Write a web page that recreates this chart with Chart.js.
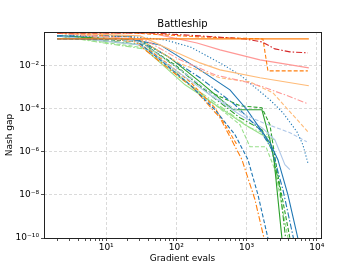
<!DOCTYPE html>
<html><head><meta charset="utf-8">
<script src="https://cdn.jsdelivr.net/npm/chart.js@4"></script>
<style>html,body{margin:0;padding:0;background:#fff}</style>
</head><body>
<canvas id="c" width="357" height="268"></canvas>
<script>
// ---- data (gradient evals, Nash gap) ----
const xTickValues = [10, 100, 1000, 10000];
const xTickLabels = ['10\u00B9', '10\u00B2', '10\u00B3', '10\u2074'];
const yTickValues = [1e-10, 1e-8, 1e-6, 1e-4, 1e-2];
const yTickLabels = ['10\u207B\u00B9\u2070', '10\u207B\u2078', '10\u207B\u2076', '10\u207B\u2074', '10\u207B\u00B2'];

const orangeSolidX = [2, 7720];
const orangeSolidY = [0.172, 0.172];
const redDashDotX = [2, 42.3, 217, 949, 1656, 2535, 4142, 7470];
const redDashDotY = [0.327, 0.327, 0.237, 0.172, 0.125, 0.0593, 0.0431, 0.0387];
const orangeDashedX = [2, 21.9, 217, 1711, 2015, 7470];
const orangeDashedY = [0.327, 0.327, 0.213, 0.172, 0.00569, 0.00569];
const lightRedSolidX = [2, 42.3, 197, 418, 1552, 7720];
const lightRedSolidY = [0.327, 0.327, 0.112, 0.0533, 0.0184, 0.00783];
const lightOrangeSolidX = [2, 30.5, 95.7, 217, 418, 1552, 7720];
const lightOrangeSolidY = [0.327, 0.237, 0.0431, 0.0133, 0.00632, 0.0027, 0.00115];
const lightRedDashedX = [2, 35.9, 113, 355, 949, 1711, 3518, 7470];
const lightRedDashedY = [0.327, 0.155, 0.0184, 0.00371, 0.00176, 0.00103, 0.00044, 0.000169];
const lightOrangeDashedX = [2, 30.5, 113, 418, 1118, 2373, 4142, 5750, 7470];
const lightOrangeDashedY = [0.327, 0.155, 0.012, 0.0027, 0.00176, 0.000545, 7.2e-5, 2.22e-5, 8.5e-6];
const blueDottedX = [2, 25.9, 69, 157, 418, 805, 2152, 3296, 5210, 6340, 7470];
const blueDottedY = [0.237, 0.213, 0.155, 0.0734, 0.0133, 0.00371, 0.000258, 6.5e-5, 8.5e-6, 2.13e-6, 3.1e-7];
const lightBlueDashedX = [2, 30.5, 113, 418, 949, 1711, 4142, 7230];
const lightBlueDashedY = [0.327, 0.125, 0.00632, 0.000258, 5.2e-5, 2.22e-5, 7.7e-6, 2.9e-6];
const blueSolidX = [2, 21.9, 58.7, 217, 580, 1014, 2152, 2797, 3880, 5380];
const blueSolidY = [0.172, 0.172, 0.0908, 0.00632, 0.00075, 8.9e-5, 2.6e-6, 4.3e-7, 1.03e-8, 1e-10];
const blueDashDotX = [2, 21.9, 69, 217, 684, 1552, 2297, 3296, 4650];
const blueDashDotY = [0.237, 0.237, 0.0313, 0.0027, 0.000152, 1.05e-5, 1.25e-6, 1.76e-8, 1e-10];
const blueDashedX = [2, 25.9, 58.7, 157, 355, 684, 1047, 1452, 2015];
const blueDashedY = [0.172, 0.155, 0.0184, 0.00128, 8.9e-5, 6.2e-6, 4.3e-7, 1.03e-8, 1e-10];
const lightBlueSolidX = [2, 30.5, 95.7, 301, 805, 1656, 2535, 3518, 4142];
const lightBlueSolidY = [0.237, 0.0908, 0.00632, 0.00044, 5.2e-5, 1.31e-5, 3.6e-6, 2.5e-7, 1.48e-7];
const orangeDashDotX = [2, 25.9, 58.7, 173, 418, 860, 1316, 1770];
const orangeDashDotY = [0.327, 0.125, 0.0148, 0.000929, 3.8e-5, 4.3e-7, 6.1e-9, 1e-10];
const orangeLowDashedX = [2, 21.9, 58.7, 157, 355, 730];
const orangeLowDashedY = [0.327, 0.213, 0.0227, 0.00176, 0.00011, 2.13e-6];
const greenSolidX = [2, 30.5, 81.3, 217, 641, 1656, 2152, 2460, 3189];
const greenSolidY = [0.237, 0.155, 0.0227, 0.00176, 8.9e-5, 8.9e-5, 3.6e-6, 4.3e-7, 1e-10];
const greenDashedX = [2, 30.5, 95.7, 256, 805, 1656, 2152, 2706, 4142];
const greenDashedY = [0.237, 0.125, 0.0108, 0.00075, 0.000136, 0.00011, 1.8e-5, 1.48e-7, 1e-10];
const greenDashDotX = [2, 35.9, 113, 301, 805, 1656, 2297, 3000, 3600];
const greenDashDotY = [0.237, 0.0908, 0.00632, 0.00044, 3.8e-5, 1.05e-5, 1.25e-6, 1.76e-8, 1e-10];
const lightGreenDashedX = [2, 35.9, 113, 355, 805, 1118, 1888, 2535, 3900];
const lightGreenDashedY = [0.237, 0.0659, 0.0027, 0.000152, 1.8e-5, 1.72e-6, 1.72e-6, 1.48e-7, 1e-10];
const lightGreenSolidX = [2, 30.5, 133, 418, 949, 1656, 2535];
const lightGreenSolidY = [0.237, 0.0908, 0.00128, 0.00011, 1.8e-5, 6.2e-6, 3.6e-6];
const lightGreenDashDotX = [2, 42.3, 157, 493, 1118, 2015];
const lightGreenDashDotY = [0.237, 0.0533, 0.00128, 8.9e-5, 1.31e-5, 6.2e-6];

// ---- styling ----
const C = {
  blue: '#1f77b4', lblue: '#aec7e8', orange: '#ff7f0e', lorange: '#ffbb78',
  green: '#2ca02c', lgreen: '#98df8a', red: '#d62728', lred: '#ff9896'
};
const D = { solid: [], dashed: [4, 2], dashdot: [6, 2, 1.5, 2], dotted: [1.2, 2] };

function mk(xs, ys, color, dash) {
  return {
    data: xs.map((x, i) => ({ x: x, y: ys[i] })),
    borderColor: color, borderDash: dash, borderWidth: 1.1,
    pointRadius: 0, showLine: true, fill: false, tension: 0
  };
}

const datasets = [
  mk(orangeSolidX, orangeSolidY, C.orange, D.solid),
  mk(redDashDotX, redDashDotY, C.red, D.dashdot),
  mk(orangeDashedX, orangeDashedY, C.orange, D.dashed),
  mk(lightRedSolidX, lightRedSolidY, C.lred, D.solid),
  mk(lightOrangeSolidX, lightOrangeSolidY, C.lorange, D.solid),
  mk(lightRedDashedX, lightRedDashedY, C.lred, D.dashdot),
  mk(lightOrangeDashedX, lightOrangeDashedY, C.lorange, D.dashed),
  mk(blueDottedX, blueDottedY, C.blue, D.dotted),
  mk(lightBlueDashedX, lightBlueDashedY, C.lblue, D.dashed),
  mk(blueSolidX, blueSolidY, C.blue, D.solid),
  mk(blueDashDotX, blueDashDotY, C.blue, D.dashdot),
  mk(blueDashedX, blueDashedY, C.blue, D.dashed),
  mk(lightBlueSolidX, lightBlueSolidY, C.lblue, D.solid),
  mk(orangeDashDotX, orangeDashDotY, C.orange, D.dashdot),
  mk(orangeLowDashedX, orangeLowDashedY, C.orange, D.dashed),
  mk(greenSolidX, greenSolidY, C.green, D.solid),
  mk(greenDashedX, greenDashedY, C.green, D.dashed),
  mk(greenDashDotX, greenDashDotY, C.green, D.dashdot),
  mk(lightGreenDashedX, lightGreenDashedY, C.lgreen, D.dashed),
  mk(lightGreenSolidX, lightGreenSolidY, C.lgreen, D.solid),
  mk(lightGreenDashDotX, lightGreenDashDotY, C.lgreen, D.dashdot)
];

const xMinor = [];
for (let e = 0; e <= 4; e++) for (let m = 1; m <= 9; m++) {
  const v = m * Math.pow(10, e);
  if (v >= 1.3 && v <= 11500) xMinor.push(v);
}
const isPow10 = v => Math.abs(Math.log10(v) - Math.round(Math.log10(v))) < 1e-9;

const FONT = "'DejaVu Sans', sans-serif";

const framePlugin = {
  id: 'frame',
  afterDraw(chart) {
    const a = chart.chartArea, ctx = chart.ctx;
    ctx.save();
    ctx.strokeStyle = '#222';
    ctx.lineWidth = 1;
    ctx.strokeRect(Math.round(a.left) + 0.5, Math.round(a.top) + 0.5,
      Math.round(a.right - a.left), Math.round(a.bottom - a.top));
    ctx.restore();
  }
};

new Chart(document.getElementById('c'), {
  type: 'scatter',
  data: { datasets: datasets },
  plugins: [framePlugin],
  options: {
    responsive: false, animation: false,
    layout: { padding: { left: 0, right: 36, top: 0, bottom: 0 } },
    plugins: {
      legend: { display: false }, tooltip: { enabled: false },
      title: {
        display: true, text: 'Battleship', fullSize: false, color: '#000',
        font: { family: FONT, size: 10, weight: 'normal' },
        padding: { top: 18, bottom: 2 }
      }
    },
    scales: {
      x: {
        type: 'logarithmic', min: 1.3, max: 11500,
        afterBuildTicks: s => { s.ticks = xMinor.map(v => ({ value: v })); },
        afterFit: s => { s.height = 30; },
        ticks: {
          autoSkip: false, maxRotation: 0, color: '#000', padding: 1,
          font: { family: FONT, size: 9 },
          callback: v => { const i = xTickValues.indexOf(v); return i >= 0 ? xTickLabels[i] : ''; }
        },
        grid: {
          color: c => (c.tick && isPow10(c.tick.value)) ? '#d0d0d0' : 'rgba(0,0,0,0)',
          tickColor: '#222', tickLength: 3, lineWidth: 0.8
        },
        border: { display: false, dash: [3, 2] },
        title: {
          display: true, text: 'Gradient evals', color: '#000',
          font: { family: FONT, size: 9 }, padding: { top: 0, bottom: 4 }
        }
      },
      y: {
        type: 'logarithmic', min: 1e-10, max: 0.36,
        afterBuildTicks: s => { s.ticks = yTickValues.map(v => ({ value: v })); },
        afterFit: s => { s.width = 44; },
        ticks: {
          autoSkip: false, color: '#000', padding: 2,
          font: { family: FONT, size: 9 },
          callback: v => { const i = yTickValues.findIndex(t => Math.abs(Math.log10(t) - Math.log10(v)) < 1e-6); return i >= 0 ? yTickLabels[i] : ''; }
        },
        grid: {
          color: c => (c.tick && c.tick.value > 2e-10) ? '#d0d0d0' : 'rgba(0,0,0,0)',
          tickColor: '#222', tickLength: 3, lineWidth: 0.8
        },
        border: { display: false, dash: [3, 2] },
        title: {
          display: true, text: 'Nash gap', color: '#000',
          font: { family: FONT, size: 9 }, padding: { top: 4, bottom: 0 }
        }
      }
    }
  }
});
</script>
</body></html>
